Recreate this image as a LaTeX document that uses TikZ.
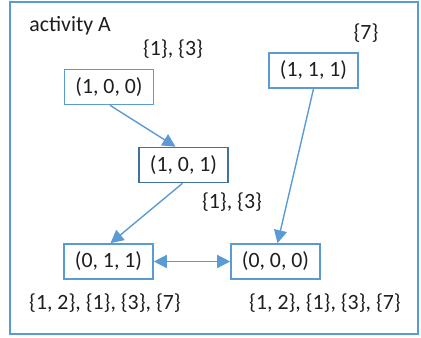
\documentclass[tikz,border=0pt]{standalone}
\usepackage{fontspec}
\setmainfont{Carlito}
\usepackage{tikz}
\usetikzlibrary{arrows.meta}

\definecolor{boxblue}{RGB}{91,155,213}
\definecolor{darkblue}{RGB}{65,113,156}
\definecolor{txtgray}{RGB}{30,30,30}

\tikzset{
	statebox/.style={draw=boxblue, line width=0.8pt, minimum width=44.5pt, minimum height=17.5pt, inner sep=0pt, text=txtgray, font=\fontsize{10.9}{13}\selectfont},
	setlabel/.style={text=txtgray, inner sep=0pt, font=\fontsize{10.9}{13}\selectfont},
	trans/.style={draw=boxblue, line width=0.7pt, -{Triangle[length=6.5pt,width=6.5pt]}}
}

\begin{document}
\begin{tikzpicture}[x=0.5pt, y=-0.5pt]
	\useasboundingbox (0,0) rectangle (421,337);
	\draw[draw=boxblue, line width=1pt] (9.5,2) rectangle (418,334);
	\node [setlabel, anchor=west] (title) at (29,26) {activity A};

	% States
	\node [statebox] (n100) at (109,87) {(1, 0, 0)};
	\node [statebox] (n111) at (313.5,70.5) {(1, 1, 1)};
	\node [statebox, draw=darkblue] (n101) at (183.5,165) {(1, 0, 1)};
	\node [statebox] (n011) at (108.5,261.5) {(0, 1, 1)};
	\node [statebox] (n000) at (275.5,261.5) {(0, 0, 0)};

	% Sets next to each state
	\node [setlabel] (s100) at (173,49) {\{1\}, \{3\}};
	\node [setlabel] (s111) at (366,33) {\{7\}};
	\node [setlabel] (s101) at (232,202) {\{1\}, \{3\}};
	\node [setlabel] (s011) at (105,303) {\{1, 2\}, \{1\}, \{3\}, \{7\}};
	\node [setlabel] (s000) at (325,303) {\{1, 2\}, \{1\}, \{3\}, \{7\}};

	% Transitions
	\draw [trans] (n100.south) ++(1,0) -- ([xshift=-4pt]n101.north);
	\draw [trans] ([xshift=-0.5pt]n101.south) -- ([xshift=1pt]n011.north);
	\draw [trans] ([xshift=0pt]n111.south) -- ([xshift=1pt]n000.north);
	\draw [trans, {Triangle[length=6.5pt,width=6.5pt]}-{Triangle[length=6.5pt,width=6.5pt]}] (n011.east) -- (n000.west);
\end{tikzpicture}
\end{document}
